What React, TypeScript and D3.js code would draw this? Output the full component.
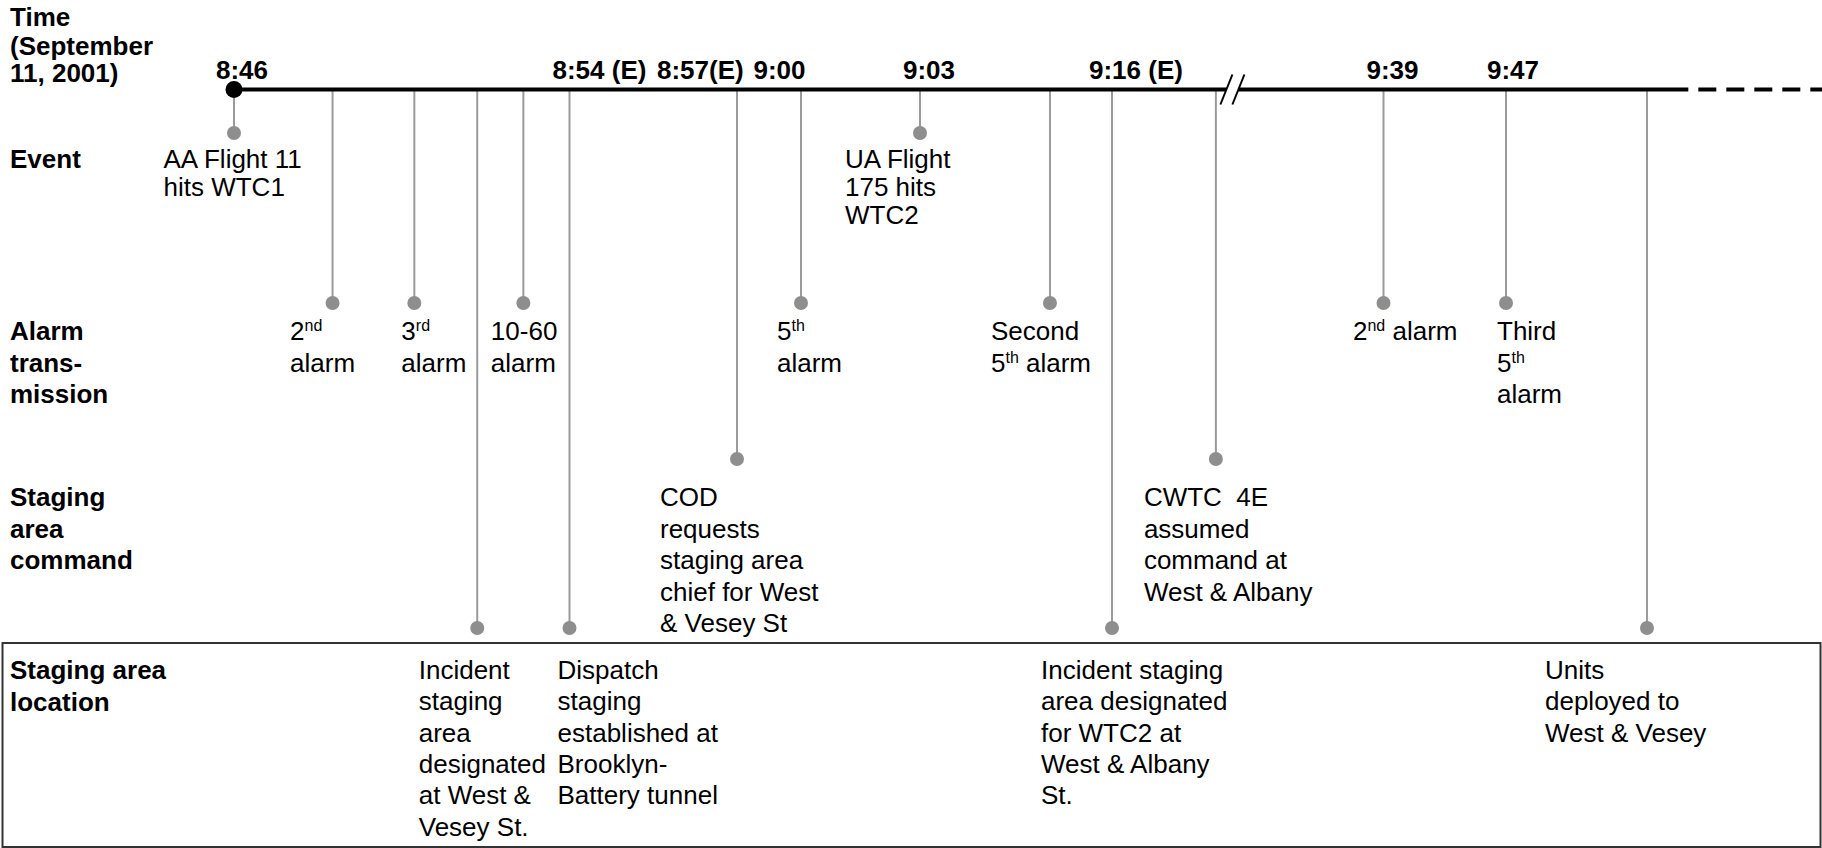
import React from "react";
import * as d3 from "d3";

// Row titles on the left
const timeTitle = ["Time", "(September", "11, 2001)"];
const rows = ["event", "alarm", "command", "location"];
const rowLabels = [
  ["Event"],
  ["Alarm", "trans-", "mission"],
  ["Staging", "area", "command"],
  ["Staging area", "location"],
];

// Times are minutes after 8:00 on the (broken, non linear) time line
const tickMinutes = [46, 54, 57, 60, 63, 76, 99, 107];
const tickLabels = ["8:46", "8:54 (E)", "8:57(E)", "9:00", "9:03", "9:16 (E)", "9:39", "9:47"];

const eventMinutes = [46, 48.35, 50.3, 51.8, 52.9, 54, 57, 60, 63, 71.8, 76, 84.8, 99, 107, 112.8];
const eventRows = [
  "event", "alarm", "alarm", "location", "alarm", "location", "command", "alarm",
  "event", "alarm", "location", "command", "alarm", "alarm", "location",
];
// {..} marks a superscript
const eventTexts = [
  ["AA Flight 11", "hits WTC1"],
  ["2{nd}", "alarm"],
  ["3{rd}", "alarm"],
  ["Incident", "staging", "area", "designated", "at West &", "Vesey St."],
  ["10-60", "alarm"],
  ["Dispatch", "staging", "established at", "Brooklyn-", "Battery tunnel"],
  ["COD", "requests", "staging area", "chief for West", "& Vesey St"],
  ["5{th}", "alarm"],
  ["UA Flight", "175 hits", "WTC2"],
  ["Second", "5{th} alarm"],
  ["Incident staging", "area designated", "for WTC2 at", "West & Albany", "St."],
  ["CWTC  4E", "assumed", "command at", "West & Albany"],
  ["2{nd} alarm"],
  ["Third", "5{th}", "alarm"],
  ["Units", "deployed to", "West & Vesey"],
];

const breakMinute = 86.2;
const solidEndMinute = 114.5;
const endMinute = 120;

// ---- layout ----
const W = 1822;
const H = 848;
const lineY = 89.5;
const anchorX = [234, 569.5, 737, 801, 920, 1112, 1383.5, 1506, 1822];
const rowDotY = [133, 303, 459, 628];
const rowTextY = [168, 340, 506, 679];
const rowLineH = [28, 31.5, 31.5, 31.3];
const titleY = [26, 55, 82];
const tickY = 79;
const tickDx = [-18, -17, -80, -47.5, -17, -23, -17, -19];
const textDx = [-70.5, -42.5, -13, -58.5, -32.5, -12, -77, -24, -75, -59, -71, -72, -30.5, -9, -102];

const font = "'Liberation Sans', Arial, Helvetica, sans-serif";

function RichText({ text }: { text: string }) {
  const parts = text.split(/(\{[^}]*\})/).filter((p) => p.length > 0);
  let raised = false;
  return (
    <>
      {parts.map((p, i) => {
        if (p.startsWith("{")) {
          raised = true;
          return (
            <tspan key={i} fontSize={16} dy={-9}>
              {p.slice(1, -1)}
            </tspan>
          );
        }
        const dy = raised ? 9 : 0;
        raised = false;
        return (
          <tspan key={i} dy={dy}>
            {p}
          </tspan>
        );
      })}
    </>
  );
}

export default function App() {
  const x = d3
    .scaleLinear()
    .domain([...tickMinutes, endMinute])
    .range(anchorX);
  const dotY = d3.scaleOrdinal<string, number>().domain(rows).range(rowDotY);
  const textY = d3.scaleOrdinal<string, number>().domain(rows).range(rowTextY);
  const lineH = d3.scaleOrdinal<string, number>().domain(rows).range(rowLineH);

  const bx = x(breakMinute);
  const solidEnd = x(solidEndMinute);

  return (
    <div style={{ position: "absolute", left: 0, top: 0 }}>
      <svg width={W} height={H} style={{ display: "block", fontFamily: font }}>
        <rect width={W} height={H} fill="#fff" />

        {/* location box */}
        <rect x={2.5} y={643} width={1818} height={204} fill="none" stroke="#333" strokeWidth={2} />

        {/* left titles */}
        <text fontSize={26} fontWeight="bold" fill="#000">
          {timeTitle.map((t, i) => (
            <tspan key={i} x={10} y={titleY[i]}>
              {t}
            </tspan>
          ))}
        </text>
        {rowLabels.map((lines, r) => (
          <text key={r} fontSize={26} fontWeight="bold" fill="#000">
            {lines.map((t, i) => (
              <tspan key={i} x={10} y={textY(rows[r]) + i * 31.5}>
                {t}
              </tspan>
            ))}
          </text>
        ))}

        {/* drop lines and end dots */}
        {eventMinutes.map((m, i) => (
          <g key={i}>
            <line x1={x(m)} x2={x(m)} y1={lineY} y2={dotY(eventRows[i])} stroke="#9a9a9a" strokeWidth={2} />
            <circle cx={x(m)} cy={dotY(eventRows[i])} r={7} fill="#8e8e8e" />
          </g>
        ))}

        {/* time line */}
        <line x1={x(tickMinutes[0])} x2={solidEnd} y1={lineY} y2={lineY} stroke="#000" strokeWidth={4} />
        <line
          x1={solidEnd}
          x2={x(endMinute)}
          y1={lineY}
          y2={lineY}
          stroke="#000"
          strokeWidth={4}
          strokeDasharray="18 10"
          strokeDashoffset={18}
        />
        <circle cx={x(tickMinutes[0])} cy={lineY} r={8.5} fill="#000" />

        {/* break mark */}
        <polygon
          points={`${bx - 12},${lineY + 15} ${bx},${lineY - 15} ${bx + 12},${lineY - 15} ${bx},${lineY + 15}`}
          fill="#fff"
        />
        <line x1={bx - 12} y1={lineY + 15} x2={bx} y2={lineY - 15} stroke="#000" strokeWidth={2} />
        <line x1={bx} y1={lineY + 15} x2={bx + 12} y2={lineY - 15} stroke="#000" strokeWidth={2} />

        {/* time labels */}
        {tickMinutes.map((m, i) => (
          <text key={i} x={x(m) + tickDx[i]} y={tickY} fontSize={26} fontWeight="bold" fill="#000">
            {tickLabels[i]}
          </text>
        ))}

        {/* event texts */}
        {eventTexts.map((lines, i) => (
          <g key={i}>
            {lines.map((t, j) => (
              <text
                key={j}
                x={x(eventMinutes[i]) + textDx[i]}
                y={textY(eventRows[i]) + j * lineH(eventRows[i])}
                fontSize={26}
                fill="#000"
                style={{ whiteSpace: "pre" }}
              >
                <RichText text={t} />
              </text>
            ))}
          </g>
        ))}
      </svg>
    </div>
  );
}
